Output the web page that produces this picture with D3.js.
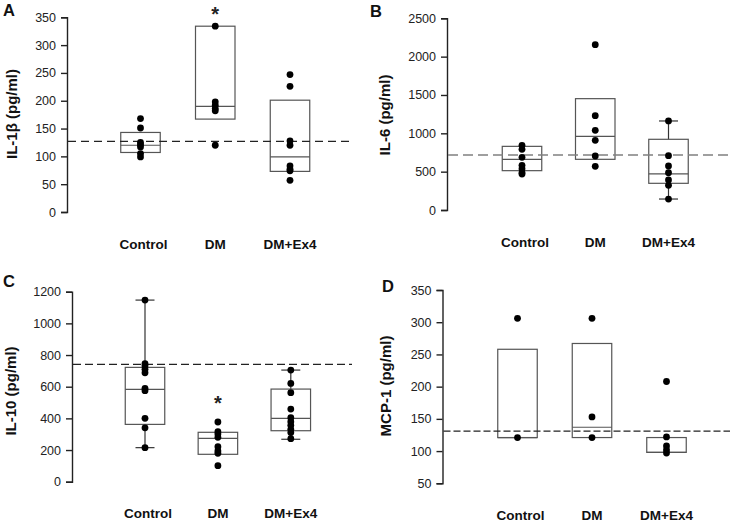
<!DOCTYPE html>
<html>
<head>
<meta charset="utf-8">
<script src="https://cdn.jsdelivr.net/npm/d3@7"></script>
<style>
  html, body { margin: 0; padding: 0; background: #fff; }
  svg { display: block; font-family: "Liberation Sans", Arial, sans-serif; }
</style>
</head>
<body>
<svg id="chart" width="730" height="523"></svg>
<script>
// ---------------- DATA ----------------
const categories = ["Control", "DM", "DM+Ex4"];

// Panel A: IL-1β (pg/ml)
const il1bTicks = [0, 50, 100, 150, 200, 250, 300, 350];
const il1bPoints = [
  [168, 151, 125, 121, 117, 105, 99],
  [334, 198, 192, 186, 182, 120],
  [247, 226, 128, 120, 83, 77, 74, 57]
];
const il1bBox = [[107, 120, 143], [167, 190, 334], [73, 99, 201]]; // q1, median, q3
const il1bWhisker = [null, null, null];
const il1bRef = 127;

// Panel B: IL-6 (pg/ml)
const il6Ticks = [0, 500, 1000, 1500, 2000, 2500];
const il6Points = [
  [844, 791, 687, 583, 539, 486, 469],
  [2156, 1230, 1039, 909, 704, 570],
  [1161, 708, 574, 486, 391, 322, 143]
];
const il6Box = [[513, 661, 830], [661, 961, 1452], [348, 470, 922]];
const il6Whisker = [null, null, [143, 1161]];
const il6Ref = 717;

// Panel C: IL-10 (pg/ml)
const il10Ticks = [0, 200, 400, 600, 800, 1000, 1200];
const il10Points = [
  [1147, 745, 730, 710, 688, 590, 575, 400, 340, 215],
  [377, 316, 301, 280, 221, 194, 179, 101],
  [705, 621, 562, 459, 404, 379, 356, 331, 310, 272]
];
const il10Box = [[362, 583, 722], [173, 274, 312], [322, 400, 585]];
const il10Whisker = [[215, 1147], null, [268, 705]];
const il10Ref = 741;

// Panel D: MCP-1 (pg/ml)
const mcp1Ticks = [50, 100, 150, 200, 250, 300, 350];
const mcp1Points = [
  [306, 121],
  [306, 153, 121],
  [208, 122, 108, 102, 97]
];
const mcp1Box = [[121, 121, 258], [121, 137, 267], [98, 98, 121]];
const mcp1Whisker = [null, null, null];
const mcp1Ref = 131;

// ---------------- LAYOUT ----------------
const panels = [
  { letter: "A", title: "IL-1β (pg/ml)", ticks: il1bTicks, points: il1bPoints, box: il1bBox, whisker: il1bWhisker, ref: il1bRef,
    star: 1, axisX: 67, yTop: 17.3, yBot: 212, xFirst: 140.5, xLast: 290, refEnd: 350,
    letterPos: [3, 16], titlePos: [17, 114], labelY: 249.3, starY: 21,
    dash: "8,5", refColor: "#222", refWidth: 1.1 },
  { letter: "B", title: "IL-6 (pg/ml)", ticks: il6Ticks, points: il6Points, box: il6Box, whisker: il6Whisker, ref: il6Ref,
    star: -1, axisX: 447, yTop: 18.3, yBot: 210, xFirst: 522, xLast: 668.5, refEnd: 730,
    letterPos: [370, 17], titlePos: [390, 115], labelY: 246.7,
    dash: "10,5", refColor: "#808080", refWidth: 1.6 },
  { letter: "C", title: "IL-10 (pg/ml)", ticks: il10Ticks, points: il10Points, box: il10Box, whisker: il10Whisker, ref: il10Ref,
    star: 1, axisX: 72, yTop: 291.7, yBot: 481.7, xFirst: 145, xLast: 290.8, refEnd: 352,
    letterPos: [3, 286.5], titlePos: [16, 391], labelY: 518, starY: 410,
    dash: "8,4", refColor: "#222", refWidth: 1.1 },
  { letter: "D", title: "MCP-1 (pg/ml)", ticks: mcp1Ticks, points: mcp1Points, box: mcp1Box, whisker: mcp1Whisker, ref: mcp1Ref,
    star: -1, axisX: 442.5, yTop: 290, yBot: 483.3, xFirst: 517.5, xLast: 666.5, refEnd: 730,
    letterPos: [382, 291.5], titlePos: [391, 386], labelY: 520,
    dash: "7,3", refColor: "#222", refWidth: 1.1 }
];

const svg = d3.select("#chart");
const boxW = 39.5;
const capW = 19;
const dotR = 3.4;

panels.forEach(p => {
  const g = svg.append("g");
  const yDomain = [p.ticks[0], p.ticks[p.ticks.length - 1]];
  const y = d3.scaleLinear().domain(yDomain).range([p.yBot, p.yTop]);
  const x = d3.scalePoint().domain(categories).range([p.xFirst, p.xLast]);

  // axis
  const axis = d3.axisLeft(y).tickValues(p.ticks).tickSizeOuter(0).tickSize(6).tickPadding(5)
    .tickFormat(d3.format("d"));
  const ag = g.append("g").attr("transform", `translate(${p.axisX},0)`).call(axis);
  ag.select(".domain").attr("stroke", "#222").attr("stroke-width", 1.4);
  ag.selectAll(".tick line").attr("stroke", "#222").attr("stroke-width", 1.4);
  ag.selectAll(".tick text").attr("fill", "#222").style("font-size", "12.5px")
    .style("font-family", "'Liberation Sans', Arial, sans-serif");

  // boxes
  categories.forEach((c, i) => {
    const cx = x(c);
    const [q1, med, q3] = p.box[i];
    const w = p.whisker[i];
    if (w) {
      g.append("line").attr("x1", cx).attr("x2", cx).attr("y1", y(q3)).attr("y2", y(w[1]))
        .attr("stroke", "#333").attr("stroke-width", 1.2);
      g.append("line").attr("x1", cx).attr("x2", cx).attr("y1", y(q1)).attr("y2", y(w[0]))
        .attr("stroke", "#333").attr("stroke-width", 1.2);
      [w[0], w[1]].forEach(v => {
        g.append("line").attr("x1", cx - capW / 2).attr("x2", cx + capW / 2).attr("y1", y(v)).attr("y2", y(v))
          .attr("stroke", "#333").attr("stroke-width", 1.2);
      });
    }
    g.append("rect").attr("x", cx - boxW / 2).attr("width", boxW)
      .attr("y", y(q3)).attr("height", Math.max(0, y(q1) - y(q3)))
      .attr("fill", "none").attr("stroke", "#555").attr("stroke-width", 1.2);
    g.append("line").attr("x1", cx - boxW / 2).attr("x2", cx + boxW / 2).attr("y1", y(med)).attr("y2", y(med))
      .attr("stroke", "#555").attr("stroke-width", 1.2);
  });

  // reference line
  g.append("line").attr("x1", p.axisX + 1).attr("x2", p.refEnd).attr("y1", y(p.ref)).attr("y2", y(p.ref))
    .attr("stroke", p.refColor).attr("stroke-width", p.refWidth).attr("stroke-dasharray", p.dash);

  // points
  categories.forEach((c, i) => {
    g.selectAll(null).data(p.points[i]).enter().append("circle")
      .attr("cx", x(c)).attr("cy", d => y(d)).attr("r", dotR).attr("fill", "#000");
  });

  // category labels
  g.selectAll(null).data(categories).enter().append("text")
    .attr("x", d => x(d) + (d === "Control" ? 3 : 0)).attr("y", p.labelY)
    .attr("text-anchor", "middle").style("font-size", "13.5px").style("font-weight", "bold")
    .attr("fill", "#111").text(d => d);

  // y title
  g.append("text").attr("transform", `translate(${p.titlePos[0]},${p.titlePos[1]}) rotate(-90)`)
    .attr("text-anchor", "middle").style("font-size", "15px").style("font-weight", "bold")
    .attr("fill", "#111").text(p.title);

  // panel letter
  g.append("text").attr("x", p.letterPos[0]).attr("y", p.letterPos[1])
    .style("font-size", "16.5px").style("font-weight", "bold").attr("fill", "#111").text(p.letter);

  // significance star
  if (p.star >= 0) {
    g.append("text").attr("x", x(categories[p.star])).attr("y", p.starY)
      .attr("text-anchor", "middle").style("font-size", "20px").style("font-weight", "bold")
      .attr("fill", "#222").text("*");
  }
});
</script>
</body>
</html>
